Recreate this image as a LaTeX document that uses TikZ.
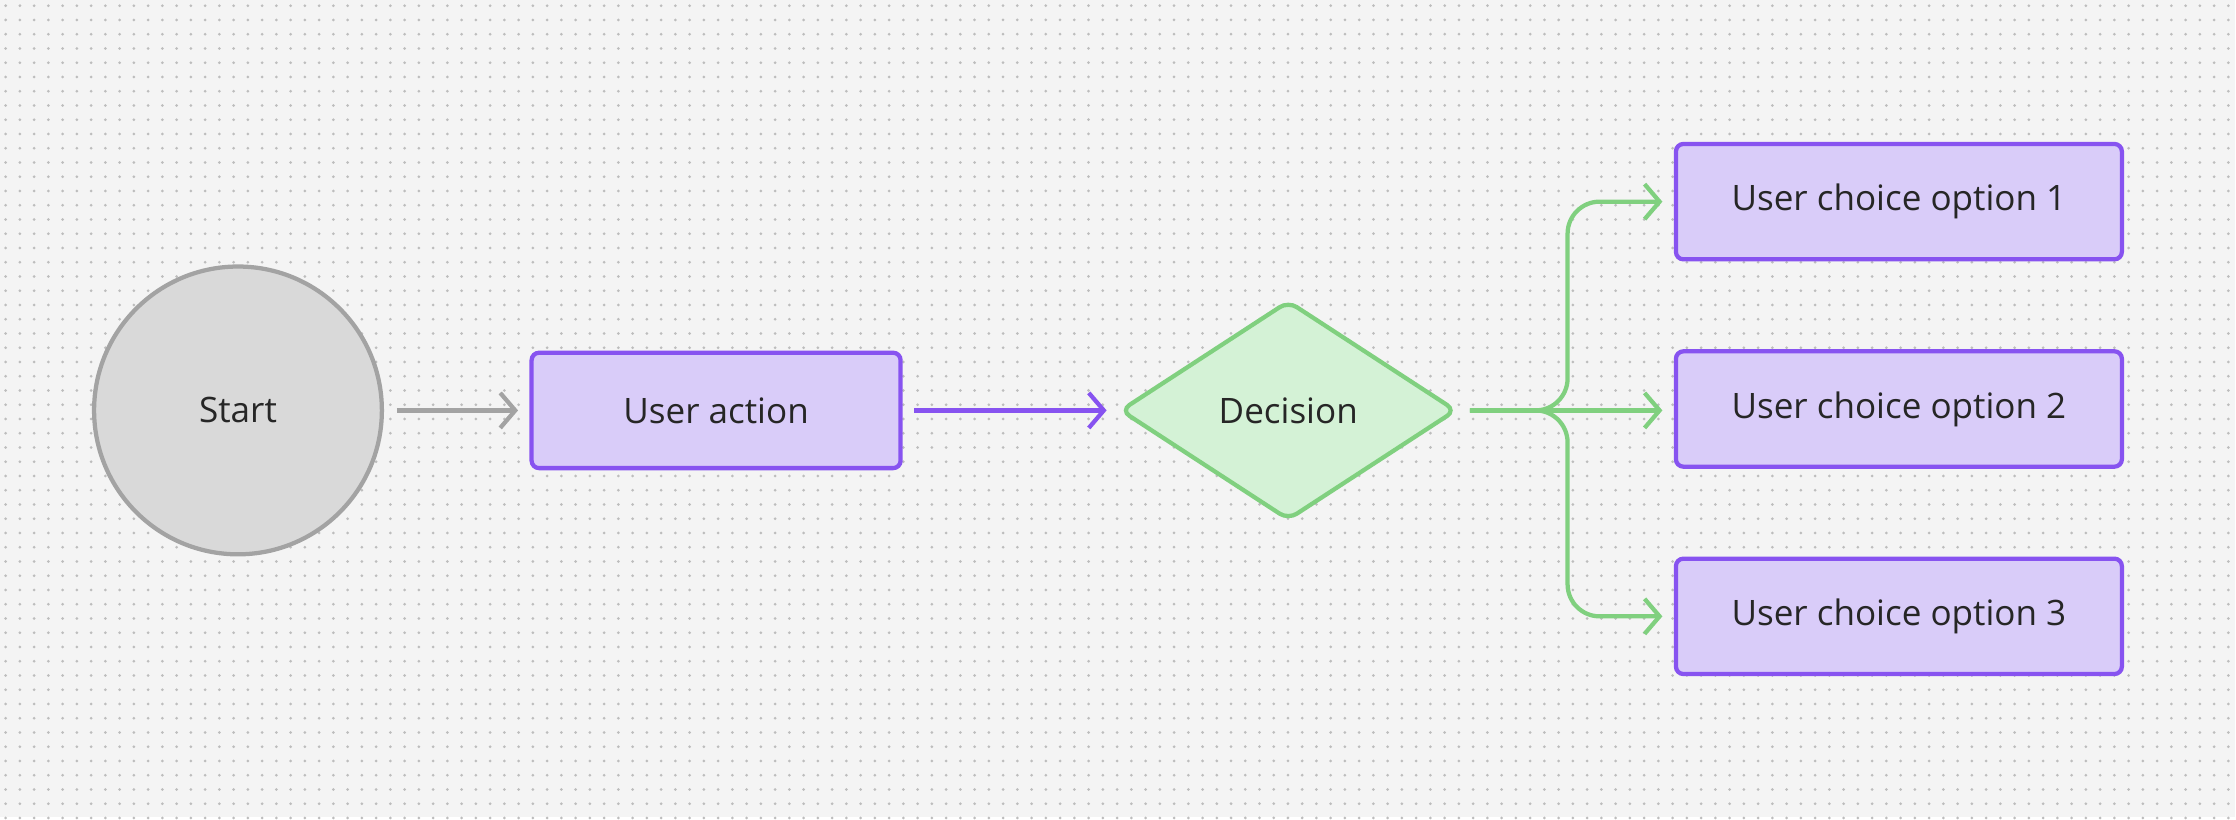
\documentclass[tikz,border=0pt]{standalone}
\usepackage{fontspec}
\setmainfont{Open Sans}
\usetikzlibrary{arrows.meta,shapes.geometric,positioning}
\definecolor{bgcol}{HTML}{F4F4F4}
\definecolor{dotcol}{HTML}{BDBDBD}
\definecolor{purp}{HTML}{8753F0}
\definecolor{purpfill}{HTML}{D9CCF9}
\definecolor{grn}{HTML}{80D07F}
\definecolor{grnfill}{HTML}{D4F2D6}
\definecolor{gryline}{HTML}{A3A3A3}
\definecolor{gryfill}{HTML}{D9D9D9}
\tikzset{
	basic/.style  = {draw, line width=1.7pt, font=\fontsize{14}{16}\selectfont, text=black!85},
	startnode/.style = {basic, circle, draw=gryline, fill=gryfill, minimum size=4.04cm},
	actbox/.style = {basic, rectangle, rounded corners=3pt, draw=purp, fill=purpfill, minimum width=5.18cm, minimum height=1.62cm},
	optbox/.style = {actbox, minimum width=6.26cm},
	decnode/.style = {basic, diamond, rounded corners=4pt, draw=grn, fill=grnfill, aspect=1.53, minimum width=4.72cm, minimum height=3.08cm, inner sep=0pt},
	link/.style = {line width=1.7pt, -{Straight Barb[length=6pt,width=14pt,line width=1.7pt]}},
	dotrow/.style = {dotcol, line width=1.2pt, line cap=round, dash pattern=on 0pt off 0.2cm}
}

\begin{document}
\begin{tikzpicture}[x=0.02cm, y=-0.02cm]
	
	\fill[bgcol] (0,0) rectangle (1568,573);
	\foreach \j in {0,...,57}
	\draw[dotrow] (4,\j*10+4) -- (1568,\j*10+4);
	
	\node [startnode] (start) at (167,288) {Start};
	\node [actbox] (act) at (502.5,288) {User action};
	\node [decnode] (dec) at (904,288) {Decision};
	\node [optbox] (opt1) at (1332.5,141.5) {User choice option 1};
	\node [optbox] (opt2) at (1332.5,287) {User choice option 2};
	\node [optbox] (opt3) at (1332.5,432.5) {User choice option 3};
	
	\coordinate (bx) at (1100,288);
	
	\draw[link, gryline, shorten <=0.18cm, shorten >=0.16cm] (start) -- (act);
	\draw[link, purp, shorten <=0.16cm, shorten >=0.16cm] (act) -- (dec);
	
	\draw[link, grn, rounded corners=0.45cm, shorten >=0.16cm] ([xshift=0.16cm]dec.east) -- (bx) |- (opt1.west);
	\draw[link, grn, shorten >=0.16cm] ([xshift=0.16cm]dec.east) -- (opt2.west |- bx);
	\draw[link, grn, rounded corners=0.45cm, shorten >=0.16cm] ([xshift=0.16cm]dec.east) -- (bx) |- (opt3.west);
	
\end{tikzpicture}
\end{document}
